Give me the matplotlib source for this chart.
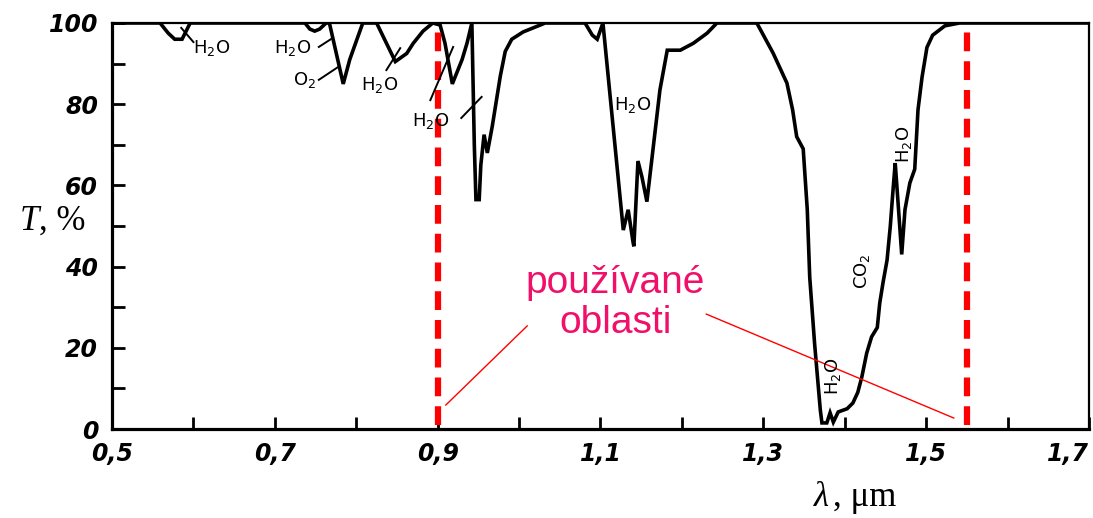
import numpy as np
import matplotlib
matplotlib.use("Agg")
import matplotlib.pyplot as plt

# atmospheric transmission spectrum
wavelength = [0.500, 0.559, 0.569, 0.577, 0.586, 0.596, 0.737, 0.743, 0.749, 0.755,
              0.763, 0.767, 0.784, 0.792, 0.808, 0.825, 0.848, 0.862, 0.870, 0.882,
              0.894, 0.903, 0.909, 0.918, 0.930, 0.936, 0.942, 0.945, 0.947, 0.951,
              0.953, 0.957, 0.961, 0.967, 0.977, 0.983, 0.991, 1.005, 1.026, 1.032,
              1.081, 1.090, 1.096, 1.103, 1.128, 1.134, 1.140, 1.141, 1.146, 1.151,
              1.157, 1.173, 1.182, 1.198, 1.214, 1.231, 1.243, 1.292, 1.312, 1.329,
              1.336, 1.341, 1.349, 1.354, 1.357, 1.363, 1.370, 1.372, 1.378, 1.382,
              1.386, 1.392, 1.403, 1.410, 1.416, 1.421, 1.427, 1.433, 1.440, 1.443,
              1.447, 1.452, 1.456, 1.459, 1.462, 1.464, 1.470, 1.474, 1.480, 1.486,
              1.490, 1.495, 1.501, 1.508, 1.523, 1.541, 1.700]
transmission = [100, 100, 97.5, 96, 96, 100, 100, 98.5, 98, 98.5,
                100, 100, 85, 91, 100, 100, 90.5, 92.5, 95, 98,
                100, 99.5, 95, 85, 91, 95, 100, 70, 56.5, 56.5,
                65, 72.5, 68, 74.5, 87, 93, 96, 97.8, 99.5, 100,
                100, 97, 96, 100, 49, 54, 46, 45, 66, 62,
                56, 83.5, 93.3, 93.3, 95, 97.5, 100, 100, 92.6, 85.2,
                78.6, 72, 69, 54, 37.4, 21, 4.7, 1.5, 1.5, 4,
                1.7, 4.2, 5, 6.4, 9, 12.8, 18.7, 22.7, 25, 31,
                36, 41.6, 50, 58, 65.5, 60, 43, 54, 60.6, 64,
                78.6, 86.7, 94, 97, 99.3, 100, 100]

x_ticks = [0.5, 0.6, 0.7, 0.8, 0.9, 1.0, 1.1, 1.2, 1.3, 1.4, 1.5, 1.6, 1.7]
x_labels = ["0,5", "", "0,7", "", "0,9", "", "1,1", "", "1,3", "", "1,5", "", "1,7"]
y_ticks = [0, 10, 20, 30, 40, 50, 60, 70, 80, 90, 100]
y_labels = ["0", "", "20", "", "40", "", "60", "", "80", "", "100"]

# absorption band labels
band_names = ["H$_2$O", "H$_2$O", "O$_2$", "H$_2$O", "H$_2$O", "H$_2$O",
              "H$_2$O", "CO$_2$", "H$_2$O"]
band_x = [0.623, 0.722, 0.737, 0.829, 0.891, 1.139, 1.473, 1.421, 1.386]
band_y = [93.8, 93.8, 86.0, 84.7, 75.9, 79.8, 70.2, 38.9, 13.0]
band_rot = [0, 0, 0, 0, 0, 0, 90, 90, 90]

leader_x = [(0.585, 0.600), (0.754, 0.771), (0.754, 0.778), (0.837, 0.854),
            (0.891, 0.919), (0.929, 0.954)]
leader_y = [(98.8, 95.3), (94.1, 96.3), (86.0, 89.2), (88.4, 93.8),
            (81.0, 94.1), (76.6, 81.8)]

# used windows
used_bounds = [0.9, 1.55]
used_text = "používané\noblasti"
pointer_x = [(0.910, 1.010), (1.230, 1.534)]
pointer_y = [(5.9, 25.4), (28.3, 2.7)]

fig = plt.figure(figsize=(10.93, 5.18), dpi=100)
ax = fig.add_axes([0.1025, 0.1718, 0.8938, 0.7838])

ax.plot(wavelength, transmission, color='black', lw=2.6, solid_joinstyle='miter')

for xb in used_bounds:
    ax.axvline(xb, ymin=0.01, ymax=1.0, color='#ff0000', lw=4.5, dashes=(3, 1.6))

for xs, ys in zip(pointer_x, pointer_y):
    ax.plot(xs, ys, color='#ff0000', lw=1.0)

for xs, ys in zip(leader_x, leader_y):
    ax.plot(xs, ys, color='black', lw=1.4)

for name, bx, by, rot in zip(band_names, band_x, band_y, band_rot):
    ax.text(bx, by, name, fontsize=13, rotation=rot, ha='center', va='center')

ax.text(1.118, 31.0, used_text, color='#f0106a', fontsize=28,
        family='Liberation Sans', ha='center', va='center', linespacing=1.12)

ax.set_xlim(0.5, 1.7)
ax.set_ylim(0, 100)
ax.set_xticks(x_ticks)
ax.set_xticklabels(x_labels)
ax.set_yticks(y_ticks)
ax.set_yticklabels(y_labels)
ax.tick_params(direction='in', length=9, width=2, labelsize=17)
ax.tick_params(axis='x', pad=9)
ax.tick_params(axis='y', pad=10)
for lab in ax.get_xticklabels() + ax.get_yticklabels():
    lab.set_style('italic')
    lab.set_weight('bold')
ax.get_xticklabels()[-1].set_horizontalalignment('right')

ax.spines['left'].set_linewidth(2.3)
ax.spines['bottom'].set_linewidth(2.3)
ax.spines['top'].set_linewidth(1.6)
ax.spines['right'].set_linewidth(1.6)

# axis titles
fig.text(0.018, 0.572, "T", family='Liberation Serif', style='italic',
         fontsize=25, ha='left', va='center')
fig.text(0.036, 0.572, ", %", family='Liberation Serif',
         fontsize=25, ha='left', va='center')
fig.text(0.745, 0.04, "λ", family='Liberation Serif', style='italic',
         fontsize=25, ha='left', va='center')
fig.text(0.762, 0.04, ", μm", family='Liberation Serif',
         fontsize=25, ha='left', va='center')

fig.savefig("out.png", dpi=100)
